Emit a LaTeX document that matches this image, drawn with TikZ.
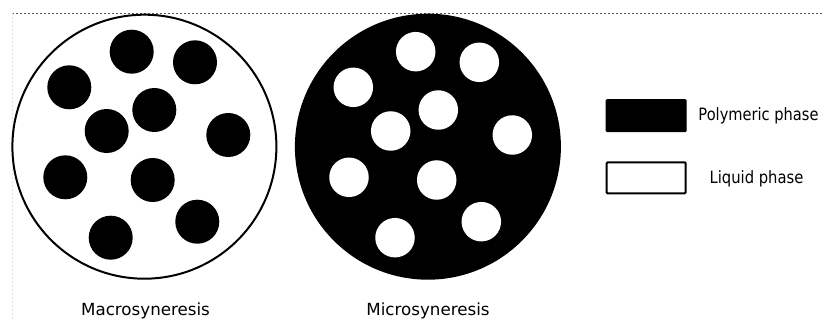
\documentclass[tikz,border=0pt]{standalone}
\usepackage{fontspec}
\setmainfont{DejaVu Sans}
\begin{document}
\begin{tikzpicture}[x=1pt,y=-1pt,
  blob/.style={circle,fill=black,inner sep=0pt,minimum size=44pt},
  hole/.style={circle,fill=white,inner sep=0pt,minimum size=39.5pt},
  label/.style={font=\fontsize{16.7}{18}\selectfont,inner sep=0pt,anchor=base},
  legtext/.style={font=\fontsize{17}{18}\selectfont,inner sep=0pt,anchor=base}]
\useasboundingbox[fill=white] (0,0) rectangle (823,320);
% frame guides
\draw[black!65,line width=0.8pt,dash pattern=on 1.6pt off 2.4pt] (12,13.3) -- (822,13.3);
\draw[black!12,line width=0.8pt,dash pattern=on 1.6pt off 2.4pt] (12,13.3) -- (12,320);
% macrosyneresis
\node[circle,draw=black,line width=2pt,fill=white,inner sep=0pt,minimum size=264pt] (macro) at (144.4,146.7) {};
\foreach \n/\x/\y in {1/131.7/51.7,2/195/62.3,3/69.3/87.3,4/154.3/110,5/106.7/131,6/228.3/135,7/65.3/177.3,8/152.7/180,9/197.3/221.7,10/110.7/237.7}
  \node[blob] (m\n) at (\x,\y) {};
% microsyneresis
\node[circle,fill=black,inner sep=0pt,minimum size=266pt] (micro) at (427.9,146.7) {};
\foreach \n/\x/\y in {1/415.7/51.7,2/479.3/62.3,3/353.3/87.3,4/438.3/110,5/390.7/131,6/512.3/135,7/349/177.3,8/436.7/180,9/481.3/221.7,10/395/237.7}
  \node[hole] (h\n) at (\x,\y) {};
% labels
\node[label] (lmacro) at (145.5,315.3) {Macrosyneresis};
\node[label] (lmicro) at (428,315.3) {Microsyneresis};
% legend
\node[draw=black,fill=black,line width=1pt,rounded corners=1pt,minimum width=80pt,minimum height=32pt,inner sep=0pt] (poly) at (646.2,115.7) {};
\node[draw=black,fill=white,line width=2pt,rounded corners=1pt,minimum width=79pt,minimum height=31pt,inner sep=0pt] (liq) at (646.2,177.8) {};
\node[legtext] (tpoly) at (758.5,120.7) {\scalebox{0.86}[1]{Polymeric phase}};
\node[legtext] (tliq) at (756.5,184) {\scalebox{0.87}[1]{Liquid phase}};
\end{tikzpicture}
\end{document}
